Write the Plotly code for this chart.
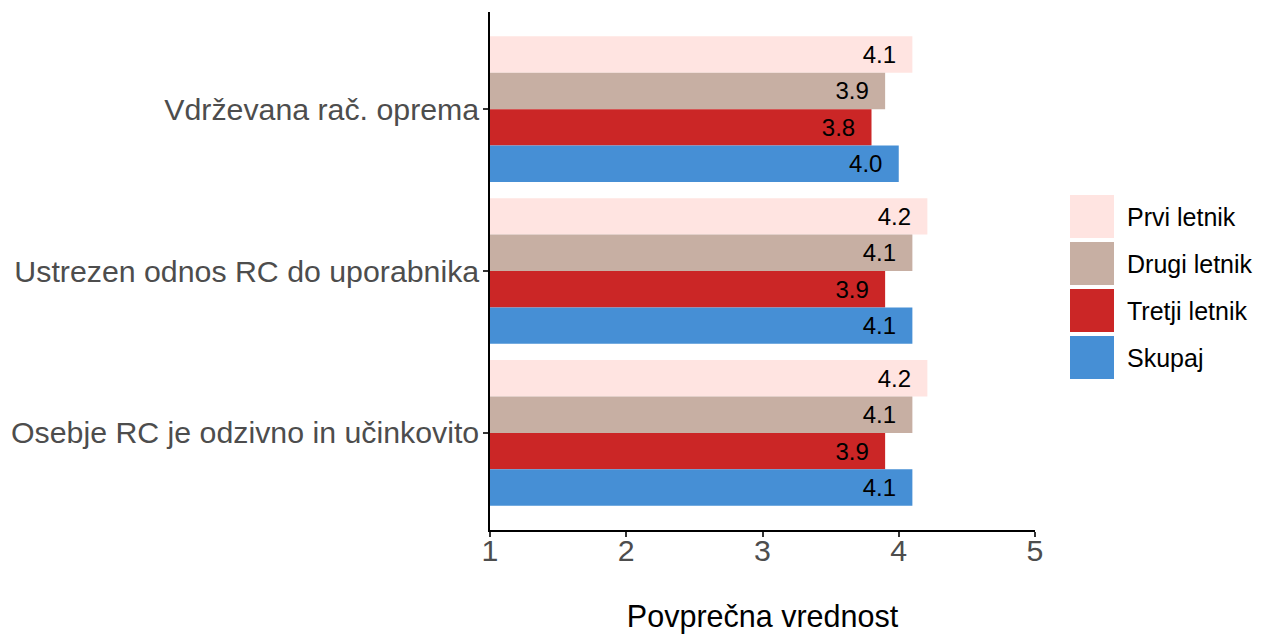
import plotly.graph_objects as go

categories = ["Vdrževana rač. oprema", "Ustrezen odnos RC do uporabnika", "Osebje RC je odzivno in učinkovito"]
series_names = ["Prvi letnik", "Drugi letnik", "Tretji letnik", "Skupaj"]
prvi = [4.10, 4.21, 4.21]
drugi = [3.90, 4.10, 4.10]
tretji = [3.80, 3.90, 3.90]
skupaj = [4.00, 4.10, 4.10]
colors = ["#FFE4E1", "#C7AFA3", "#CB2626", "#468FD5"]
x_ticks = [1, 2, 3, 4, 5]
x_title = "Povprečna vrednost"

values = [prvi, drugi, tretji, skupaj]

W, H = 1272, 634
ML, MR, MT, MB = 490, 237, 12, 104
PW, PH = W - ML - MR, H - MT - MB

fig = go.Figure()
for name, vals, col in zip(series_names, values, colors):
    fig.add_trace(go.Bar(
        y=categories, x=vals, name=name, orientation="h",
        marker=dict(color=col, line=dict(width=0)),
        text=[f"{v:.1f}\u00a0\u00a0" for v in vals],
        textposition="inside", insidetextanchor="end",
        textfont=dict(family="Liberation Sans", size=24, color="black"),
        showlegend=False,
    ))

# manual legend (ggplot style large keys)
def px_x(px):
    return (px - ML) / PW
def px_y(py):
    return (H - MB - py) / PH

key_top0, key_h, key_step = 195, 43, 47
for i, (name, col) in enumerate(zip(series_names, colors)):
    top = key_top0 + i * key_step
    fig.add_shape(type="rect", xref="paper", yref="paper",
                  x0=px_x(1070), x1=px_x(1114), y0=px_y(top + key_h), y1=px_y(top),
                  fillcolor=col, line=dict(width=0), layer="above")
    fig.add_annotation(xref="paper", yref="paper", x=px_x(1125), y=px_y(top + key_h / 2),
                       text=name, showarrow=False, xanchor="left", yanchor="middle",
                       font=dict(family="Liberation Sans", size=25, color="black"))

fig.update_layout(
    width=W, height=H,
    margin=dict(l=ML, r=MR, t=MT, b=MB, autoexpand=False),
    barmode="group", bargap=0.1, bargroupgap=0,
    plot_bgcolor="white", paper_bgcolor="white",
    font=dict(family="Liberation Sans"),
    xaxis=dict(range=[1, 5], tickvals=x_ticks, showgrid=False, zeroline=False,
               automargin=False, ticklabelstandoff=-12,
               showline=True, linecolor="black", linewidth=1.5,
               ticks="outside", ticklen=5, tickcolor="#333333", tickwidth=1.5,
               tickfont=dict(size=30.3, color="#4D4D4D"),
               title=dict(text=x_title, font=dict(size=30.5, color="black"), standoff=40)),
    yaxis=dict(type="category", categoryarray=categories, range=[2.6, -0.6],
               showgrid=False, zeroline=False, automargin=False, ticklabelstandoff=-2,
               showline=True, linecolor="black", linewidth=1.5,
               ticks="outside", ticklen=5, tickcolor="#333333", tickwidth=1.5,
               tickfont=dict(size=30.3, color="#4D4D4D")),
)

fig.write_html("out.html", config={"displayModeBar": False},
               post_script="document.body.style.margin='0px';")
